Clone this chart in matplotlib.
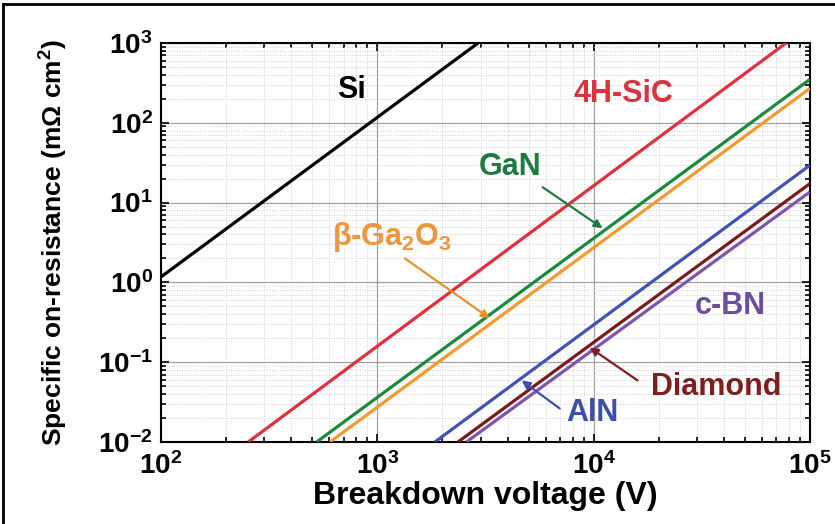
import numpy as np
import matplotlib
matplotlib.use("Agg")
import matplotlib.pyplot as plt
from matplotlib.lines import Line2D
from matplotlib.ticker import LogLocator, NullFormatter

plt.rcParams['font.family'] = ['Liberation Sans', 'DejaVu Sans']
plt.rcParams['font.weight'] = 'bold'
plt.rcParams['mathtext.fontset'] = 'custom'
plt.rcParams['mathtext.rm'] = 'Liberation Sans:bold'
plt.rcParams['mathtext.it'] = 'Liberation Sans:bold'
plt.rcParams['mathtext.bf'] = 'Liberation Sans:bold'
plt.rcParams['mathtext.default'] = 'rm'

# line end points (V, mOhm cm2)
materials = ['Si', '4H-SiC', 'GaN', 'b-Ga2O3', 'AlN', 'Diamond', 'c-BN']
v_start = [100, 253, 524, 604, 1845, 2360, 2580]
r_start = [1.17, 0.01, 0.01, 0.01, 0.01, 0.01, 0.01]
v_end = [2925, 77600, 1e5, 1e5, 1e5, 1e5, 1e5]
r_end = [1000, 1000, 350, 270, 29.4, 17.3, 13.6]
colors = ['#000000', '#e0303c', '#1b8a3e', '#f39a2e', '#4152b4', '#7a1a1a', '#7e55ad']

fig = plt.figure(figsize=(8.35, 5.24), dpi=100)
ax = fig.add_axes([0.1928, 0.1565, 0.7772, 0.7615])

for i in range(len(materials)):
    ax.plot([v_start[i], v_end[i]], [r_start[i], r_end[i]], color=colors[i], lw=2.3,
            solid_capstyle='butt', zorder=3)

ax.set_xscale('log')
ax.set_yscale('log')
ax.set_xlim(1e2, 1e5)
ax.set_ylim(1e-2, 1e3)
ax.xaxis.set_minor_locator(LogLocator(base=10, subs=np.arange(2, 10)))
ax.yaxis.set_minor_locator(LogLocator(base=10, subs=np.arange(2, 10)))
ax.xaxis.set_minor_formatter(NullFormatter())
ax.yaxis.set_minor_formatter(NullFormatter())

ax.grid(True, which='major', color='#a0a0a0', lw=0.9)
ax.grid(True, which='minor', color='#d0d0d0', lw=0.7, ls=':')
ax.set_axisbelow(True)

ax.tick_params(which='both', direction='in', top=True, right=True, width=1.2)
ax.tick_params(which='major', length=6, labelsize=20)
ax.tick_params(which='minor', length=3.5)
ax.tick_params(axis='x', pad=7)
ax.tick_params(axis='y', pad=6)
for s in ax.spines.values():
    s.set_linewidth(1.5)

ax.set_xlabel('Breakdown voltage (V)', fontsize=23, fontweight='bold', labelpad=1)
ax.set_ylabel(r'Specific on-resistance (m$\Omega$ cm$^2$)', fontsize=19,
              fontweight='bold', labelpad=20)

# labels and arrows
fs = 22
ax.text(763, 257, 'Si', color='#000000', fontsize=fs, ha='center', va='center')
ax.text(13800, 229, '4H-SiC', color='#d9333f', fontsize=fs, ha='center', va='center')
ax.text(4090, 27.8, 'GaN', color='#1f7a3f', fontsize=fs, ha='center', va='center')
ax.text(1167, 3.68, r'$\beta$-Ga$_2$O$_3$', color='#f0963a', fontsize=fs, ha='center', va='center')
ax.text(42900, 0.50, 'c-BN', color='#6c4f9a', fontsize=fs, ha='center', va='center')
ax.text(37000, 0.0483, 'Diamond', color='#7d1f1f', fontsize=fs, ha='center', va='center')
ax.text(9890, 0.0234, 'AlN', color='#3d4fa6', fontsize=fs, ha='center', va='center')

arrows = [
    ((5810, 15.6), (11000, 4.77), '#1f7a3f'),
    ((1340, 2.0), (3310, 0.355), '#e8902e'),
    ((15960, 0.0591), (9590, 0.153), '#7d1f1f'),
    ((6970, 0.0263), (4650, 0.0591), '#3d4fa6'),
]
for tail, head, c in arrows:
    ax.annotate('', xy=head, xytext=tail,
                arrowprops=dict(arrowstyle='-|>', color=c, lw=1.6, mutation_scale=12,
                                shrinkA=0, shrinkB=0))

# frame pieces on top and left of the image
fig.add_artist(Line2D([0.004, 1.0], [0.992, 0.992], transform=fig.transFigure, color='black', lw=2))
fig.add_artist(Line2D([0.004, 0.004], [0.0, 0.992], transform=fig.transFigure, color='black', lw=2))

fig.savefig('out.png', dpi=100)
